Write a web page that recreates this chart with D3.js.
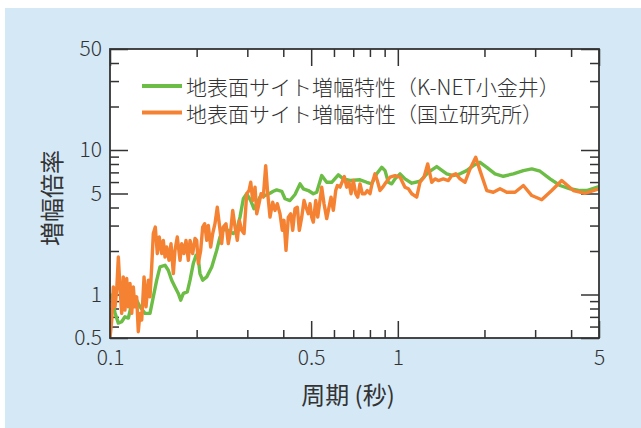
<!DOCTYPE html>
<html>
<head>
<meta charset="utf-8">
<script src="https://cdn.jsdelivr.net/npm/d3@7"></script>
<style>
  html, body { margin: 0; padding: 0; background: #ffffff; }
  svg { display: block; }
  text { font-family: "Noto Sans CJK JP", "Noto Sans", sans-serif; fill: #333333; }
</style>
</head>
<body>
<svg id="chart" width="641" height="428"></svg>
<script>
// 地表面サイト増幅特性 — K-NET小金井 (period in s, amplification)
const periodsKnet = [
  0.1, 0.1014, 0.1041, 0.1069, 0.1098, 0.1127, 0.1158, 0.1205, 0.1238, 0.1271,
  0.1323, 0.1377, 0.1414, 0.1453, 0.1492, 0.1553, 0.1594, 0.1638, 0.1682, 0.1727,
  0.1761, 0.1798, 0.1856, 0.1897, 0.1947, 0.1990, 0.2027, 0.2054, 0.2099, 0.2168,
  0.2257, 0.2348, 0.2411, 0.2489, 0.2576, 0.2681, 0.2755, 0.2829, 0.2906, 0.2985,
  0.3083, 0.3165, 0.3234, 0.3320, 0.3456, 0.3597, 0.3693, 0.3795, 0.3950, 0.4056,
  0.4221, 0.4393, 0.4574, 0.4695, 0.4887, 0.5087, 0.5227, 0.5440, 0.5662, 0.5892,
  0.6213, 0.6466, 0.6823, 0.7391, 0.7798, 0.8116, 0.8448, 0.8793, 0.9028, 0.9268,
  0.9523, 0.9779, 1.018, 1.059, 1.118, 1.194, 1.276, 1.365, 1.479, 1.559,
  1.645, 1.735, 1.830, 1.930, 2.037, 2.176, 2.325, 2.519, 2.730, 2.920,
  3.120, 3.380, 3.662, 3.966, 4.297, 4.533, 4.844, 5.0
];
const ampKnet = [
  0.95, 0.99, 0.744, 0.634, 0.648, 0.701, 0.687, 0.964, 0.914, 0.822,
  0.740, 0.740, 0.964, 1.256, 1.551, 1.594, 1.472, 1.256, 1.129, 1.017,
  0.914, 1.017, 1.043, 1.256, 1.637, 1.868, 1.772, 1.397, 1.256, 1.324,
  1.551, 2.02, 2.50, 2.85, 2.78, 2.64, 2.78, 3.43, 4.60, 4.98,
  4.47, 3.92, 4.25, 4.72, 4.84, 5.02, 5.18, 5.30, 5.18, 4.60,
  4.47, 4.92, 5.83, 5.39, 5.24, 4.98, 5.10, 6.65, 5.98, 5.98,
  6.73, 6.31, 6.15, 6.22, 5.98, 5.83, 6.84, 7.59, 7.20, 5.98,
  5.83, 6.31, 6.84, 6.31, 5.89, 6.08, 7.01, 7.68, 6.84, 6.65,
  6.84, 7.20, 7.80, 8.22, 7.59, 6.84, 6.58, 6.84, 7.20, 7.40,
  7.13, 6.31, 5.68, 5.39, 5.24, 5.24, 5.47, 5.59
];

// 地表面サイト増幅特性 — 国立研究所
const periodsLab = [
  0.1, 0.1014, 0.1027, 0.1041, 0.1055, 0.1069, 0.1083, 0.1098, 0.1112, 0.1127,
  0.1143, 0.1158, 0.1174, 0.1190, 0.1205, 0.1221, 0.1238, 0.1254, 0.1271, 0.1289,
  0.1313, 0.1334, 0.1359, 0.1377, 0.1396, 0.1414, 0.1437, 0.1460, 0.1483, 0.1512,
  0.1532, 0.1553, 0.1574, 0.1603, 0.1629, 0.1660, 0.1682, 0.1713, 0.1751, 0.1775,
  0.1807, 0.1837, 0.1871, 0.1897, 0.1938, 0.1974, 0.2001, 0.2027, 0.2066, 0.2099,
  0.2133, 0.2168, 0.2196, 0.2238, 0.2274, 0.2316, 0.2359, 0.2397, 0.2443, 0.2475,
  0.2529, 0.2576, 0.2627, 0.2669, 0.2719, 0.2769, 0.2814, 0.2868, 0.2922, 0.2985,
  0.3041, 0.3083, 0.3132, 0.3191, 0.3234, 0.3294, 0.3347, 0.3409, 0.3475, 0.3532,
  0.3597, 0.3675, 0.3743, 0.3813, 0.3896, 0.3968, 0.4023, 0.4088, 0.4164, 0.4246,
  0.4313, 0.4393, 0.4475, 0.4547, 0.4636, 0.4722, 0.4798, 0.4887, 0.4954, 0.5021,
  0.5087, 0.5186, 0.5270, 0.5440, 0.5541, 0.5662, 0.5768, 0.5861, 0.5970, 0.6085,
  0.6164, 0.6299, 0.6518, 0.6644, 0.6767, 0.6877, 0.7005, 0.7141, 0.7256, 0.7391,
  0.7528, 0.7691, 0.7834, 0.8005, 0.8134, 0.8331, 0.8486, 0.8671, 0.8860, 0.9101,
  0.9396, 0.9779, 1.018, 1.059, 1.088, 1.118, 1.163, 1.194, 1.233, 1.270,
  1.312, 1.347, 1.383, 1.439, 1.498, 1.539, 1.590, 1.645, 1.712, 1.782,
  1.865, 1.930, 2.037, 2.147, 2.265, 2.390, 2.554, 2.730, 2.920, 3.162,
  3.425, 3.711, 4.072, 4.473, 4.778, 5.0
];
const ampLab = [
  0.50, 0.666, 1.129, 0.822, 1.072, 1.818, 1.129, 0.740, 1.324, 0.780,
  1.290, 0.822, 1.192, 0.740, 1.129, 0.822, 0.964, 0.553, 0.740, 0.666,
  1.324, 0.822, 1.256, 0.964, 1.551, 2.64, 2.93, 1.919, 2.50, 1.919,
  2.37, 1.818, 2.13, 1.726, 2.25, 1.397, 2.02, 2.50, 1.726, 2.25,
  1.919, 2.37, 1.726, 2.37, 1.919, 2.44, 2.37, 1.637, 2.02, 2.93,
  3.09, 2.37, 3.01, 2.13, 2.64, 3.09, 4.02, 3.09, 2.25, 2.93,
  3.09, 2.25, 2.78, 3.82, 2.93, 2.37, 3.26, 2.78, 2.64, 4.98,
  5.24, 5.98, 4.47, 5.53, 3.62, 4.25, 4.98, 4.72, 7.80, 4.98,
  3.43, 4.35, 3.82, 4.25, 3.62, 2.78, 3.26, 2.02, 3.43, 3.62,
  2.78, 3.92, 4.02, 2.78, 3.43, 4.47, 4.02, 3.62, 4.25, 3.43,
  3.17, 4.47, 3.43, 5.53, 4.25, 3.35, 4.02, 4.72, 3.82, 5.24,
  5.68, 5.53, 6.55, 5.53, 5.98, 4.98, 6.15, 4.98, 4.72, 5.83,
  4.98, 4.98, 5.24, 4.98, 5.83, 6.84, 6.15, 5.24, 5.53, 5.98,
  6.48, 6.65, 6.48, 5.53, 5.39, 4.98, 4.72, 5.98, 6.48, 8.01,
  5.98, 6.31, 6.15, 6.31, 6.15, 6.65, 6.84, 6.31, 5.98, 7.40,
  8.90, 7.20, 5.24, 5.10, 5.39, 5.10, 5.10, 5.68, 4.84, 4.53,
  5.24, 6.15, 5.24, 5.02, 5.24, 5.39
];

// Axis ticks and labels
const xMajorTicks = [0.1, 0.5, 1, 5];
const xMinorTicks = [0.2, 0.3, 0.4, 0.6, 0.7, 0.8, 0.9, 2, 3, 4];
const yMajorTicks = [0.5, 1, 5, 10, 50];
const yMinorTicks = [0.6, 0.7, 0.8, 0.9, 2, 3, 4, 6, 7, 8, 9, 20, 30, 40];

const seriesNames = ["地表面サイト増幅特性（K-NET小金井）", "地表面サイト増幅特性（国立研究所）"];
const seriesColors = ["#6cbd45", "#f58232"];
const xTitle = "周期 (秒)";
const yTitle = "増幅倍率";

const svg = d3.select("#chart");
const W = 641, H = 428;
const plot = { left: 110, right: 599, top: 49, bottom: 338 };

// panel background
svg.append("rect").attr("x", 5).attr("y", 8).attr("width", W - 5).attr("height", H - 8)
  .attr("fill", "#d4e8f6");
svg.append("rect").attr("x", plot.left).attr("y", plot.top)
  .attr("width", plot.right - plot.left).attr("height", plot.bottom - plot.top)
  .attr("fill", "#ffffff");

const x = d3.scaleLog().domain([0.1, 5]).range([plot.left, plot.right]);
const y = d3.scaleLog().domain([0.5, 50]).range([plot.bottom, plot.top]);

const fmt = d => String(d);
const tickColor = "#333333";

function styleAxis(g, fontSize) {
  g.select(".domain").remove();
  g.selectAll(".tick line").attr("stroke", tickColor).attr("stroke-width", 1.5);
  g.selectAll(".tick text").attr("font-size", fontSize).attr("font-weight", 300)
    .attr("fill", "#333333").attr("font-family", '"Noto Sans CJK JP", "Noto Sans", sans-serif');
}

// bottom axis
svg.append("g").attr("transform", `translate(0,${plot.bottom})`)
  .call(d3.axisBottom(x).tickValues(xMinorTicks).tickSizeInner(-8).tickSizeOuter(0).tickFormat(""))
  .call(g => styleAxis(g, 21));
svg.append("g").attr("transform", `translate(0,${plot.bottom})`)
  .call(d3.axisBottom(x).tickValues(xMajorTicks).tickSizeInner(-17).tickSizeOuter(0).tickPadding(12).tickFormat(fmt))
  .call(g => styleAxis(g, 21));
// top axis
svg.append("g").attr("transform", `translate(0,${plot.top})`)
  .call(d3.axisTop(x).tickValues(xMinorTicks).tickSizeInner(-8).tickSizeOuter(0).tickFormat(""))
  .call(g => styleAxis(g, 21));
svg.append("g").attr("transform", `translate(0,${plot.top})`)
  .call(d3.axisTop(x).tickValues(xMajorTicks).tickSizeInner(-17).tickSizeOuter(0).tickFormat(""))
  .call(g => styleAxis(g, 21));
// left axis
svg.append("g").attr("transform", `translate(${plot.left},0)`)
  .call(d3.axisLeft(y).tickValues(yMinorTicks).tickSizeInner(-9).tickSizeOuter(0).tickFormat(""))
  .call(g => styleAxis(g, 21));
svg.append("g").attr("transform", `translate(${plot.left},0)`)
  .call(d3.axisLeft(y).tickValues(yMajorTicks).tickSizeInner(-18).tickSizeOuter(0).tickPadding(8).tickFormat(fmt))
  .call(g => styleAxis(g, 21));
// right axis
svg.append("g").attr("transform", `translate(${plot.right},0)`)
  .call(d3.axisRight(y).tickValues(yMinorTicks).tickSizeInner(-9).tickSizeOuter(0).tickFormat(""))
  .call(g => styleAxis(g, 21));
svg.append("g").attr("transform", `translate(${plot.right},0)`)
  .call(d3.axisRight(y).tickValues(yMajorTicks).tickSizeInner(-18).tickSizeOuter(0).tickFormat(""))
  .call(g => styleAxis(g, 21));

// curves
svg.append("clipPath").attr("id", "plot-clip").append("rect")
  .attr("x", plot.left).attr("y", plot.top)
  .attr("width", plot.right - plot.left).attr("height", plot.bottom - plot.top);

const line = d3.line().x(d => x(d[0])).y(d => y(d[1]));
const series = [
  { name: seriesNames[0], color: seriesColors[0], pts: d3.zip(periodsKnet, ampKnet) },
  { name: seriesNames[1], color: seriesColors[1], pts: d3.zip(periodsLab, ampLab) }
];
const curves = svg.append("g").attr("clip-path", "url(#plot-clip)");
series.forEach(s => {
  curves.append("path").datum(s.pts).attr("d", line)
    .attr("fill", "none").attr("stroke", s.color).attr("stroke-width", 3.4)
    .attr("stroke-linejoin", "round").attr("stroke-linecap", "round");
});

// frame
svg.append("rect").attr("x", plot.left).attr("y", plot.top)
  .attr("width", plot.right - plot.left).attr("height", plot.bottom - plot.top)
  .attr("fill", "none").attr("stroke", "#333333").attr("stroke-width", 1.8);

// legend
const legend = svg.append("g").attr("transform", "translate(142,86)");
series.forEach((s, i) => {
  const row = legend.append("g").attr("transform", `translate(0,${i * 26.5})`);
  row.append("line").attr("x1", 0).attr("x2", 40).attr("y1", 0).attr("y2", 0)
    .attr("stroke", s.color).attr("stroke-width", 4);
  row.append("text").attr("x", 44).attr("y", 0).attr("dominant-baseline", "central")
    .attr("font-size", 21).attr("font-weight", 300).text(s.name);
});

// axis titles
svg.append("text").attr("x", 348).attr("y", 393).attr("text-anchor", "middle")
  .attr("dominant-baseline", "central").attr("font-size", 24).attr("font-weight", 400)
  .text(xTitle);
svg.append("text").attr("transform", "translate(50,198) rotate(-90)").attr("text-anchor", "middle")
  .attr("dominant-baseline", "central").attr("font-size", 24).attr("font-weight", 400)
  .text(yTitle);
</script>
</body>
</html>
